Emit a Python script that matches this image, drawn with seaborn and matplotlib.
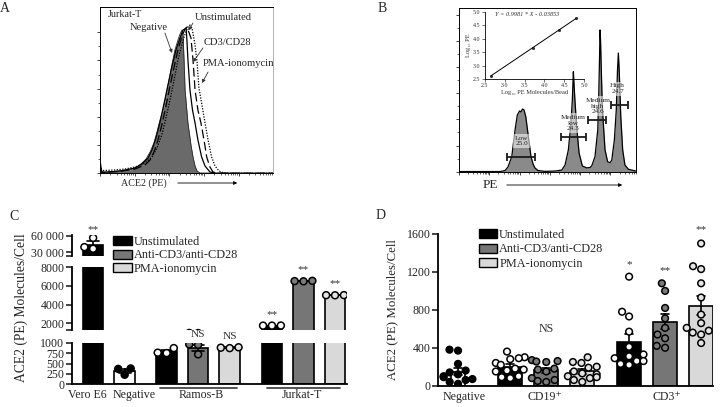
import warnings
warnings.filterwarnings('ignore')
import numpy as np
import pandas as pd
import matplotlib
matplotlib.use('Agg')
import matplotlib.pyplot as plt
from matplotlib.patches import Patch
import seaborn as sns

# ---------------- Panel A : ACE2 (PE) histograms of Jurkat-T (channel, % of max) ----------------
a_negative_x = [0, 4, 9, 59, 118, 177, 219, 248, 272, 296, 319, 337, 355, 373, 390, 408, 426, 443, 461, 473,
                485, 491, 497, 503, 520, 538, 550, 562, 574, 591, 1023]
a_negative_y = [0, 6.2, 0.8, 0.8, 1.4, 2.0, 3.8, 6.2, 8.6, 12.8, 18.3, 24.9, 32.1, 38.1, 46.6, 56.2, 65.8, 74.3,
                80.3, 83.9, 86.3, 83.3, 68.3, 50.2, 30.3, 17.0, 9.8, 4.4, 1.4, 0.2, 0]
a_unstim_x = [0, 6, 12, 118, 207, 248, 284, 307, 331, 355, 378, 402, 426, 449, 473, 491, 509, 514, 520, 532,
              547, 562, 579, 601, 621, 650, 680, 1023]
a_unstim_y = [0, 3.2, 0.5, 1.4, 3.2, 5.6, 9.2, 14.0, 21.3, 30.9, 41.7, 53.2, 64.6, 74.3, 81.5, 86.3, 87.5, 80.3,
              68.3, 50.2, 38.1, 30.3, 20.1, 9.8, 4.4, 0.8, 0, 0]
a_cd3_x = [0, 6, 12, 118, 207, 266, 296, 319, 343, 367, 390, 414, 438, 461, 485, 503, 514, 538, 550, 562,
           579, 597, 615, 631, 650, 668, 698, 1023]
a_cd3_y = [0, 2.0, 0.5, 1.1, 2.6, 5.0, 8.0, 12.8, 20.1, 29.7, 40.5, 52.6, 64.0, 74.3, 82.7, 86.9, 88.1, 81.5,
           68.3, 50.2, 38.1, 30.3, 20.1, 9.8, 3.8, 0.8, 0, 0]
a_pma_x = [0, 6, 18, 89, 148, 207, 266, 307, 337, 367, 390, 414, 438, 461, 485, 503, 520, 532, 544, 562,
           574, 585, 603, 621, 639, 660, 680, 704, 733, 769, 1023]
a_pma_y = [0, 2.0, 1.7, 2.0, 2.6, 3.8, 6.2, 9.8, 15.2, 23.7, 33.3, 44.2, 56.2, 68.3, 77.9, 83.9, 88.1, 89.3,
           87.5, 77.3, 67.1, 51.4, 41.1, 30.3, 20.1, 9.8, 4.4, 1.4, 0.2, 0, 0]

# ---------------- Panel B : calibration beads ----------------
b_x = [0, 237, 266, 283, 305, 324, 337, 350, 358, 367, 376, 386, 401, 416, 428, 439, 457, 497, 555, 594,
       613, 632, 647, 655, 661, 665, 670, 680, 694, 713, 738, 757, 767, 786, 802, 807, 812, 815, 818, 824,
       828, 834, 844, 859, 873, 883, 898, 909, 916, 921, 926, 935, 946, 959, 979, 998, 1023]
b_y = [0.1, 0.1, 0.7, 2.9, 9.2, 25.5, 34.6, 37.1, 36.5, 38.3, 37.7, 33.6, 21.4, 9.2, 4.7, 2.3, 0.7, 0.2, 0.4, 1.0,
       4.1, 13.3, 29.7, 43.8, 61.1, 53.0, 43.8, 27.5, 11.4, 3.5, 2.3, 2.6, 3.5, 9.2, 25.5, 43.8, 68.2, 86.6, 80.5, 56.0,
       40.7, 29.7, 13.3, 6.1, 5.5, 7.1, 19.4, 37.7, 62.1, 72.5, 62.1, 33.6, 13.3, 4.1, 1.5, 1.0, 0.4]
b_gate_names = ['Low', 'Medium\nlow', 'Medium\nhigh', 'High']
b_gate_cv = ['25.0', '24.3', '24.6', '24.7']
b_gate_lo = [276, 590, 744, 877]
b_gate_hi = [439, 734, 850, 975]
b_gate_level = [8.8, 21.4, 31.6, 40.7]
b_peak_ch = [362, 659, 803, 917]
inset_x = [2.66, 3.71, 4.37, 4.79]
inset_y = [2.62, 3.67, 4.32, 4.75]
inset_eq = 'Y = 0.9981 * X - 0.03853'

# ---------------- Panel C ----------------
c_cell = ['Vero E6', 'Negative', 'Ramos-B', 'Ramos-B', 'Ramos-B', 'Jurkat-T', 'Jurkat-T', 'Jurkat-T']
c_treatment = ['none', 'none', 'Unstimulated', 'Anti-CD3/anti-CD28', 'PMA-ionomycin',
               'Unstimulated', 'Anti-CD3/anti-CD28', 'PMA-ionomycin']
c_values = [[36000, 39000, 56000], [370, 380, 230], [870, 750, 760], [960, 950, 720], [870, 880, 890],
            [1750, 1750, 1760], [6500, 6520, 6550], [5000, 5010, 5020]]
c_sig = ['**', '', '', 'NS', 'NS', '**', '**', '**']

# ---------------- Panel D ----------------
d_cell = ['Negative', 'CD19+', 'CD19+', 'CD19+', 'CD3+', 'CD3+', 'CD3+']
d_treatment = ['none', 'Unstimulated', 'Anti-CD3/anti-CD28', 'PMA-ionomycin',
               'Unstimulated', 'Anti-CD3/anti-CD28', 'PMA-ionomycin']
d_values = [[380, 370, 230, 160, 140, 120, 100, 90, 70, 40, 20, 60],
            [360, 300, 290, 280, 240, 220, 180, 170, 160, 150, 100, 90, 80],
            [270, 260, 255, 250, 180, 170, 150, 80, 60, 50, 40],
            [300, 250, 240, 200, 190, 150, 130, 120, 100, 90, 80, 60, 40],
            [1150, 780, 730, 570, 410, 330, 310, 290, 260, 260, 230, 220],
            [1080, 1000, 820, 710, 610, 500, 540, 420, 400],
            [1500, 1260, 1230, 1080, 930, 750, 660, 610, 580, 560, 540, 450]]
d_sig = ['', '', 'NS', '', '*', '**', '**']

legend_labels = ['Unstimulated', 'Anti-CD3/anti-CD28', 'PMA-ionomycin']

# ---------------- style ----------------
sns.set_style('ticks')
plt.rcParams['font.family'] = ['Liberation Serif', 'DejaVu Serif']
plt.rcParams['axes.edgecolor'] = 'black'

W, H = 727, 407
fig = plt.figure(figsize=(W / 100, H / 100), dpi=100)
fig.patch.set_facecolor('white')


def box(l, t, r, b):
    return [l / W, 1 - b / H, (r - l) / W, (b - t) / H]


def fpt(x, y):
    return (x / W, 1 - y / H)


bar_pal = {'Vero E6': 'black', 'Negative': 'white', 'Unstimulated': 'black',
           'Anti-CD3/anti-CD28': '#767676', 'PMA-ionomycin': '#d9d9d9'}
pt_pal = {'Vero E6': 'white', 'Negative': 'black', 'Unstimulated': 'white',
          'Anti-CD3/anti-CD28': '#7a7a7a', 'PMA-ionomycin': '#e4e4e4'}


def log_ticks(decade):
    major, minor = [], []
    for d in range(6):
        for k in range(1, 10):
            p = (d + np.log10(k)) * decade
            if p <= 1023:
                (major if k == 1 else minor).append(p)
    return major, minor

# ================= Panel A =================
axA = fig.add_axes(box(100, 7.3, 273, 173.3))
axA.fill_between(a_negative_x, a_negative_y, color='#6a6a6a', lw=0)
sns.lineplot(x=a_negative_x, y=a_negative_y, ax=axA, color='#2a2a2a', lw=0.6, estimator=None)
sns.lineplot(x=a_unstim_x, y=a_unstim_y, ax=axA, color='black', lw=0.9, estimator=None)
sns.lineplot(x=a_cd3_x, y=a_cd3_y, ax=axA, color='black', lw=0.9, estimator=None, linestyle=(0, (7, 3)))
sns.lineplot(x=a_pma_x, y=a_pma_y, ax=axA, color='black', lw=0.9, estimator=None, linestyle=(0, (1, 1.2)))
axA.set_xlim(0, 1023)
axA.set_ylim(0, 100)
mj, mn = log_ticks(205)
axA.set_xticks(mj)
axA.set_xticks(mn, minor=True)
axA.set_yticks([0, 17, 34, 51, 68, 85])
axA.set_yticks([8.5, 25.5, 42.5, 59.5, 76.5], minor=True)
axA.tick_params(which='major', length=2.5, width=0.6, labelbottom=False, labelleft=False)
axA.tick_params(which='minor', length=1.5, width=0.5)
for s in axA.spines.values():
    s.set_linewidth(0.7)
axA.spines['right'].set_color('#b0b0b0')
axA.set_xlabel('')
axA.set_ylabel('')
fsA = 7.6
axA.text(47, 95.4, 'Jurkat-T', fontsize=7.2, ha='left', va='center')
axA.text(287, 88.1, 'Negative', fontsize=fsA, ha='center', va='center')
axA.text(562, 93.6, 'Unstimulated', fontsize=fsA, ha='left', va='center', clip_on=False)
axA.text(615, 78.5, 'CD3/CD28', fontsize=fsA, ha='left', va='center', clip_on=False)
axA.text(609, 66.4, 'PMA-ionomycin', fontsize=fsA, ha='left', va='center', clip_on=False)
arrow_kw = dict(arrowstyle='-|>', color='#333333', lw=0.6, mutation_scale=5, shrinkA=0, shrinkB=0)
for start, end in [((384, 84.5), (426, 72.5)), ((550, 90.5), (522, 86.0)),
                   ((609, 75.5), (550, 67.0)), ((639, 61.0), (603, 54.4))]:
    axA.annotate('', xy=end, xytext=start, arrowprops=arrow_kw)
fig.text(*fpt(144, 183), 'ACE2 (PE)', fontsize=7.2, ha='center', va='center')
axA.annotate('', xy=fpt(240, 183), xytext=fpt(175, 183), xycoords='figure fraction',
             textcoords='figure fraction',
             arrowprops=dict(arrowstyle='-|>', color='black', lw=0.6, mutation_scale=5))

# ================= Panel B =================
axB = fig.add_axes(box(459, 8, 636, 171.7))
axB.fill_between(b_x, b_y, color='#8a8a8a', lw=0)
sns.lineplot(x=b_x, y=b_y, ax=axB, color='black', lw=0.9, estimator=None)
for lo, hi, lev in zip(b_gate_lo, b_gate_hi, b_gate_level):
    axB.errorbar((lo + hi) / 2, lev, xerr=(hi - lo) / 2, fmt='none', ecolor='#1a1a1a',
                 elinewidth=1.3, capsize=3, capthick=1.3, zorder=4)
for name, cv, pk, yc in zip(b_gate_names, b_gate_cv, b_peak_ch, [18.8, 29.7, 40.1, 50.8]):
    axB.text(pk, yc, f'{name}\n{cv}', fontsize=5.2, ha='center', va='center',
             linespacing=1.1, color='#222222',
             bbox=dict(boxstyle='square,pad=0.25', fc='white', ec='none', alpha=0.55), zorder=3)
axB.set_xlim(0, 1023)
axB.set_ylim(0, 100)
mj, mn = log_ticks(175)
axB.set_xticks(mj)
axB.set_xticks(mn, minor=True)
axB.set_yticks([0, 16, 32, 48, 64, 80, 96])
axB.set_yticks([8, 24, 40, 56, 72, 88], minor=True)
axB.tick_params(which='major', length=2.5, width=0.6, labelbottom=False, labelleft=False)
axB.tick_params(which='minor', length=1.5, width=0.5)
for s in axB.spines.values():
    s.set_linewidth(0.7)
axB.set_xlabel('')
axB.set_ylabel('')
fig.text(*fpt(490.5, 185), 'PE', fontsize=9.5, ha='center', va='center')
axB.annotate('', xy=fpt(625, 185), xytext=fpt(504, 185), xycoords='figure fraction',
             textcoords='figure fraction',
             arrowprops=dict(arrowstyle='-|>', color='black', lw=0.6, mutation_scale=5))

# inset
axI = fig.add_axes(box(484.7, 11.7, 584.3, 79))
axI.patch.set_alpha(0)
sns.regplot(x=inset_x, y=inset_y, ax=axI, ci=None, color='black',
            scatter_kws={'s': 5, 'linewidths': 0}, line_kws={'lw': 0.7})
axI.set_xlim(2.5, 5.0)
axI.set_ylim(2.5, 5.0)
axI.set_xticks([2.5, 3.0, 3.5, 4.0, 4.5, 5.0])
axI.set_yticks([2.5, 3.0, 3.5, 4.0, 4.5, 5.0])
axI.tick_params(length=2, width=0.5, labelsize=4.3, pad=1, colors='#333333')
for s in ['top', 'right']:
    axI.spines[s].set_visible(False)
for s in ['left', 'bottom']:
    axI.spines[s].set_linewidth(0.6)
axI.set_xlabel('Log\u2081\u2080 PE Molecules/Bead', fontsize=4.6, labelpad=1.5, color='#333333')
axI.set_ylabel('Log\u2081\u2080 PE', fontsize=4.6, labelpad=1.5, color='#333333')
axI.text(2.76, 4.88, inset_eq, fontsize=4.5, style='italic', ha='left', va='center', color='#333333')

# ================= Panel C =================
C_POS = [0, 1, 2.33, 3.33, 4.33, 5.67, 6.67, 7.67]
rows = []
for i, (cell, tr, vals) in enumerate(zip(c_cell, c_treatment, c_values)):
    kind = cell if tr == 'none' else tr
    for v in vals:
        rows.append({'pos': C_POS[i], 'kind': kind, 'value': v})
dfc = pd.DataFrame(rows)

c_specs = [  # top, bottom (px), ylim, ticks, labels
    (235, 256, (22650, 61300), [22650, 30000, 60000], ['', '30 000', '60 000']),
    (267.3, 330, (1280, 8000), [1280, 2000, 4000, 6000, 8000], ['', '2000', '4000', '6000', '8000']),
    (342.7, 384.3, (0, 1000), [0, 250, 500, 750, 1000], ['0', '250', '500', '750', '1000']),
]
c_axes = []
for top, bot, ylim, ticks, labels in c_specs:
    ax = fig.add_axes(box(72, top, 347, bot))
    sns.barplot(data=dfc, x='pos', y='value', hue='kind', palette=bar_pal, native_scale=True, dodge=False,
                width=0.65, errorbar='se', capsize=0.38, err_kws={'color': 'black', 'linewidth': 1.2},
                edgecolor='black', linewidth=1.2, legend=False, ax=ax)
    lo, hi = ylim
    span = hi - lo
    seg = dfc[(dfc['value'] >= lo - 0.05 * span) & (dfc['value'] <= hi + 0.05 * span)]
    sns.swarmplot(data=seg, x='pos', y='value', hue='kind', palette=pt_pal, native_scale=True, dodge=False,
                  size=5.0, edgecolor='black', linewidth=1.1, legend=False, ax=ax, warn_thresh=1)
    ax.set_ylim(*ylim)
    ax.set_xlim(-0.67, 8.05)
    ax.set_yticks(ticks)
    ax.set_yticklabels(labels)
    ax.tick_params(axis='y', length=4, width=1.2, labelsize=8.6, pad=1.5)
    ax.set_xlabel('')
    ax.set_ylabel('')
    for s in ['top', 'right']:
        ax.spines[s].set_visible(False)
    ax.spines['left'].set_linewidth(1.3)
    ax.spines['bottom'].set_linewidth(1.3)
    c_axes.append(ax)

c_top, c_mid, c_bot = c_axes
for ax in (c_top, c_mid):
    ax.spines['bottom'].set_visible(False)
    ax.set_xticks([])
c_bot.set_xticks([-0.17, 1.29, 3.43, 6.63])
c_bot.set_xticklabels(['Vero E6', 'Negative', 'Ramos-B', 'Jurkat-T'])
c_bot.tick_params(axis='x', length=0, labelsize=8.6, pad=3.5)
for x0, x1 in [(2.13, 4.57), (5.52, 7.84)]:
    c_bot.plot([x0, x1], [-0.082, -0.082], color='#444444', lw=1.3,
               transform=c_bot.get_xaxis_transform(), clip_on=False)

# significance marks for panel C
c_sig_y = [(c_top, 72000), (None, None), (None, None), (c_bot, 1200), (c_bot, 1150),
           (c_mid, 2950), (c_mid, 7780), (c_mid, 6280)]
for i, mark in enumerate(c_sig):
    ax, yv = c_sig_y[i]
    if mark:
        fs = 8.2 if mark == 'NS' else 8.0
        ax.text(C_POS[i], yv, mark, ha='center', va='center', fontsize=fs, color='#333333', clip_on=False)

fig.text(*fpt(21, 307.5), 'ACE2 (PE) Molecules/Cell', rotation=90, ha='center', va='center', fontsize=9.8)
handles = [Patch(facecolor=bar_pal[k], edgecolor='black', linewidth=1.0) for k in legend_labels]
fig.legend(handles, legend_labels, loc='upper left', bbox_to_anchor=fpt(113, 236), frameon=False,
           borderpad=0, borderaxespad=0, handlelength=1.55, handleheight=0.8, handletextpad=0.15,
           labelspacing=0.12, fontsize=8.8)

# ================= Panel D =================
D_POS = [0, 1.45, 2.45, 3.45, 4.75, 5.75, 6.75]
rows = []
for i, (cell, tr, vals) in enumerate(zip(d_cell, d_treatment, d_values)):
    kind = cell if tr == 'none' else tr
    for v in vals:
        rows.append({'pos': D_POS[i], 'kind': kind, 'value': v})
dfd = pd.DataFrame(rows)

axD = fig.add_axes(box(438, 234, 713, 385.7))
neg = dfd[dfd['kind'] == 'Negative']
rest = dfd[dfd['kind'] != 'Negative']
sns.barplot(data=neg, x='pos', y='value', hue='kind', palette=bar_pal, native_scale=True, dodge=False,
            width=0.39, errorbar='se', capsize=0.22, err_kws={'color': 'black', 'linewidth': 1.2},
            edgecolor='black', linewidth=1.2, legend=False, ax=axD)
sns.barplot(data=rest, x='pos', y='value', hue='kind', palette=bar_pal, native_scale=True, dodge=False,
            width=0.667, errorbar='se', capsize=0.22, err_kws={'color': 'black', 'linewidth': 1.2},
            edgecolor='black', linewidth=1.2, legend=False, ax=axD)
sns.swarmplot(data=dfd, x='pos', y='value', hue='kind', palette=pt_pal, native_scale=True, dodge=False,
              size=4.8, edgecolor='black', linewidth=1.1, legend=False, ax=axD, warn_thresh=1)
axD.set_ylim(0, 1600)
axD.set_xlim(-0.556, 7.08)
axD.set_yticks([0, 400, 800, 1200, 1600])
axD.tick_params(axis='y', length=4, width=1.2, labelsize=8.6, pad=1.5)
axD.set_xticks([0.17, 2.42, 5.8])
axD.set_xticklabels(['Negative', 'CD19\u207a', 'CD3\u207a'])
axD.tick_params(axis='x', length=0, labelsize=8.6, pad=3.5)
axD.set_xlabel('')
axD.set_ylabel('')
for s in ['top', 'right']:
    axD.spines[s].set_visible(False)
axD.spines['left'].set_linewidth(1.3)
axD.spines['bottom'].set_linewidth(1.3)
d_sig_y = [None, None, 600, None, 1280, 1215, 1650]
for i, mark in enumerate(d_sig):
    if mark:
        fs = 8.6 if mark == 'NS' else 8.0
        axD.text(D_POS[i], d_sig_y[i], mark, ha='center', va='center', fontsize=fs, color='#333333',
                 clip_on=False)
fig.text(*fpt(392, 310), 'ACE2 (PE) Molecules/Cell', rotation=90, ha='center', va='center', fontsize=9.3)
fig.legend(handles, legend_labels, loc='upper left', bbox_to_anchor=fpt(479, 229), frameon=False,
           borderpad=0, borderaxespad=0, handlelength=1.5, handleheight=0.8, handletextpad=0.15,
           labelspacing=0.2, fontsize=8.8)

# panel letters
for letter, (px, py) in zip('ABCD', [(5, 9), (382, 8), (14, 217), (381, 216)]):
    fig.text(*fpt(px, py), letter, fontsize=10, ha='center', va='center')

fig.savefig('out.png', dpi=100, facecolor='white')
